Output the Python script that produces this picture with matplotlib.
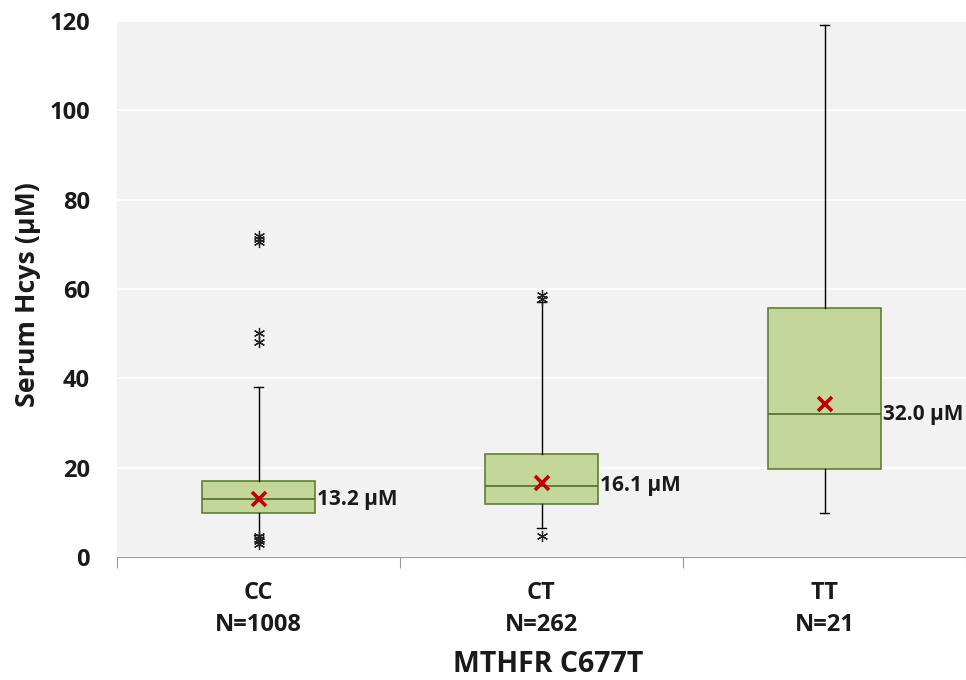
import matplotlib
matplotlib.use("Agg")
import matplotlib.pyplot as plt

plt.rcParams['font.family'] = ['Open Sans', 'DejaVu Sans']

# genotype groups
genotypes = ["CC", "CT", "TT"]
n_counts = [1008, 262, 21]

# box statistics (uM)
q1 = [9.9, 11.8, 19.7]
medians = [12.9, 16.0, 32.0]
q3 = [17.1, 23.0, 55.8]
whis_lo = [5.0, 6.4, 9.9]
whis_hi = [38.0, 57.0, 119.0]
means = [13.0, 16.5, 34.2]
outliers = [
    [71.9, 71.2, 70.5, 50.1, 48.1, 4.6, 4.0, 3.5, 3.0],
    [58.6, 57.7, 4.6],
    [],
]
median_labels = ["13.2 µM", "16.1 µM", "32.0 µM"]

stats = []
for i, g in enumerate(genotypes):
    stats.append(dict(label=g, q1=q1[i], med=medians[i], q3=q3[i],
                      whislo=whis_lo[i], whishi=whis_hi[i],
                      mean=means[i], fliers=outliers[i]))

fig = plt.figure(figsize=(9.66, 6.8), dpi=100)
ax = fig.add_axes([117/966, 123/680, 1 - 117/966, 536/680])
ax.set_facecolor("#f2f2f2")

pos = [1, 2, 3]
ax.bxp(stats, positions=pos, widths=0.4, patch_artist=True, showmeans=True,
       capwidths=0.035,
       boxprops=dict(facecolor="#c4d79b", edgecolor="#5f7f35", linewidth=1.2),
       medianprops=dict(color="#4f6b2a", linewidth=1.2),
       whiskerprops=dict(color="black", linewidth=1),
       capprops=dict(color="black", linewidth=1),
       meanprops=dict(marker="x", markeredgecolor="#c00000", markersize=10,
                      markeredgewidth=2.6),
       flierprops=dict(marker=(6, 2, 0), markeredgecolor="#222222",
                       markersize=8, markeredgewidth=0.9, linestyle="none"))

for i, lab in enumerate(median_labels):
    ax.text(pos[i] + 0.208, medians[i], lab, ha="left", va="center",
            fontsize=15, fontweight="bold", color="#1a1a1a")

ax.set_ylim(0, 120)
ax.set_xlim(0.5, 3.5)
ax.set_yticks(range(0, 121, 20))
ax.yaxis.grid(True, color="white", linewidth=1.2)
ax.set_axisbelow(True)
ax.tick_params(axis="y", length=0, pad=19.5, labelsize=17, labelcolor="#1a1a1a")
for t in ax.get_yticklabels():
    t.set_fontweight("bold")

# category boundary ticks
ax.set_xticks([0.5, 1.5, 2.5, 3.5])
ax.set_xticklabels([])
ax.tick_params(axis="x", direction="out", length=8, color="#999999")
for i, g in enumerate(genotypes):
    x = ax.transData.transform((pos[i], 0))[0] / 966
    fig.text(x, 1 - 593 / 680, g, ha="center", va="center",
             fontsize=17, fontweight="bold", color="#1a1a1a")
    fig.text(x, 1 - 625 / 680, "N=" + str(n_counts[i]), ha="center", va="center",
             fontsize=17, fontweight="bold", color="#1a1a1a")

for s in ["top", "right", "left"]:
    ax.spines[s].set_visible(False)
ax.spines["bottom"].set_color("#999999")

fig.text(28.5 / 966, 1 - 294.5 / 680, "Serum Hcys (µM)", rotation=90,
         ha="center", va="center", fontsize=19.3, fontweight="bold", color="#1a1a1a")
fig.text(548 / 966, 1 - 664 / 680, "MTHFR C677T", ha="center", va="center",
         fontsize=20.5, fontweight="bold", color="#1a1a1a")

fig.savefig("out.png", dpi=100)
